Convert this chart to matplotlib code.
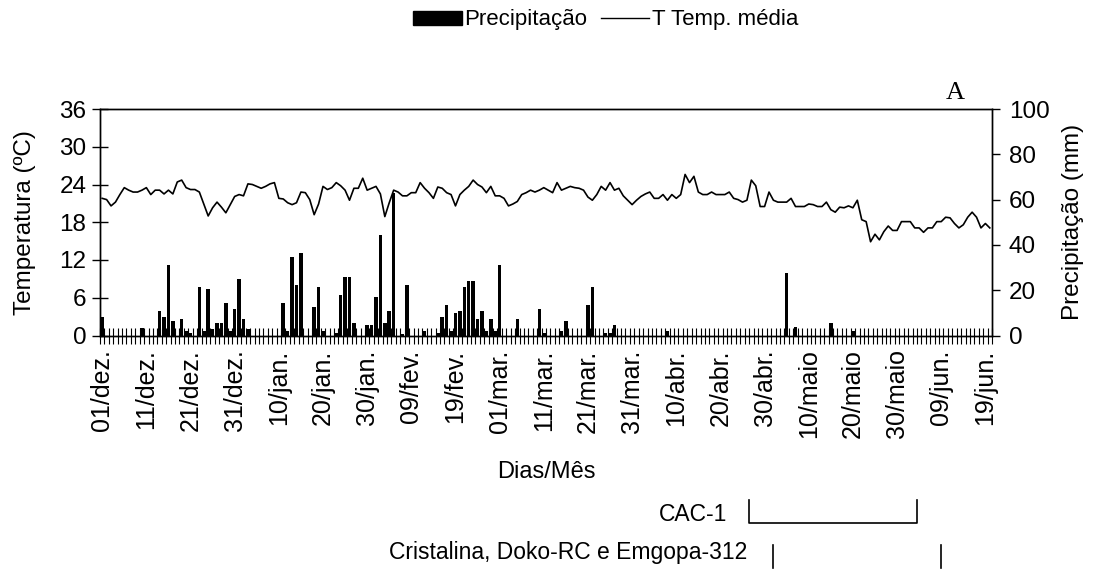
import matplotlib
matplotlib.use("Agg")
import matplotlib.pyplot as plt
from matplotlib.patches import Patch
from matplotlib.lines import Line2D
import numpy as np

plt.rcParams["font.family"] = ["Liberation Sans", "DejaVu Sans"]
plt.rcParams["font.size"] = 17

# temperatura media diaria (ºC), de 01/dez a 21/jun
temp_media = [
    21.8, 21.6, 20.6, 21.2, 22.4, 23.5, 23.1, 22.8, 22.8, 23.1,
    23.5, 22.4, 23.1, 23.1, 22.5, 23.1, 22.5, 24.4, 24.7, 23.5,
    23.2, 23.2, 22.8, 20.9, 19.0, 20.3, 21.2, 20.4, 19.5, 20.8,
    22.1, 22.4, 22.2, 24.1, 24.0, 23.7, 23.4, 23.7, 24.1, 24.3,
    21.8, 21.7, 21.1, 20.8, 21.1, 22.8, 22.7, 21.6, 19.2, 20.9,
    23.7, 23.2, 23.5, 24.3, 23.8,
    23.1, 21.5, 23.4, 23.4, 25.0, 23.1, 23.4, 23.7, 22.5, 18.9,
    21.1, 23.1, 22.8, 22.2, 22.2, 22.7, 22.7, 24.3, 23.4, 22.7,
    21.8, 23.6, 23.4, 22.7, 22.4, 20.6, 22.4, 23.1, 23.7, 24.7,
    24.0, 23.6, 22.7, 23.7, 22.2, 22.2, 21.8, 20.6, 20.9, 21.3,
    22.4, 22.7, 23.1, 22.8, 23.1, 23.5, 23.1, 22.7, 24.3, 23.1,
    23.4, 23.7, 23.5, 23.4, 23.1, 22.0,
    21.5, 22.4, 23.7, 23.1, 24.3, 23.1, 23.4, 22.2, 21.5, 20.8,
    21.5, 22.1, 22.5, 22.8, 21.8, 21.8, 22.4, 21.5, 22.4, 21.8,
    22.4, 25.6, 24.3, 25.3, 22.8, 22.4, 22.4, 22.8, 22.4, 22.4,
    22.4, 22.8, 21.8, 21.6, 21.2, 21.5, 24.7, 23.8, 20.5, 20.5,
    22.8, 21.5, 21.2, 21.2, 21.2, 21.8, 20.5, 20.5, 20.5, 20.9,
    20.8, 20.5, 20.5, 21.2, 20.0, 19.6, 20.4,
    20.3, 20.6, 20.3, 21.5, 18.4, 18.1, 14.9, 16.1, 15.2, 16.5,
    17.4, 16.7, 16.7, 18.1, 18.1, 18.1, 17.1, 17.1, 16.4, 17.1,
    17.1, 18.1, 18.1, 18.8, 18.7, 17.8, 17.1, 17.6, 18.8, 19.6,
    18.8, 17.1, 17.8, 17.1,
]

# dias com chuva (indice do dia a partir de 01/dez) e precipitacao (mm)
chuva_dias = [0, 9, 13, 14, 15, 16, 18, 19, 20, 22, 23, 24, 25, 26, 27, 28, 29,
              30, 31, 32, 33, 41, 42, 43, 44, 45, 48, 49, 50, 53, 54, 55, 56,
              57, 60, 61, 62, 63, 64, 65, 66, 68, 69, 73, 76, 77, 78, 79, 80,
              81, 82, 83, 84, 85, 86, 87, 88, 89, 90, 94, 99, 100, 104, 105,
              110, 111, 114, 115, 116, 128, 155, 157, 165, 170]
chuva_mm = [8.0, 3.5, 10.8, 8.1, 31.1, 6.5, 7.2, 2.1, 1.2, 21.2, 2.1, 20.5,
            3.0, 5.6, 5.6, 14.3, 2.1, 11.7, 24.9, 7.2, 3.0, 14.3, 2.1, 34.8,
            22.3, 36.3, 12.5, 21.2, 2.1, 1.0, 17.8, 25.7, 25.7, 5.6, 4.6, 4.6,
            17.1, 44.4, 5.6, 10.8, 62.8, 0.6, 22.3, 2.1, 1.2, 8.0, 13.4, 2.1,
            10.0, 10.8, 21.2, 24.2, 24.2, 7.2, 10.8, 2.1, 7.2, 2.1, 31.1, 7.2,
            11.7, 1.2, 2.1, 6.5, 13.4, 21.2, 0.9, 0.9, 4.6, 2.1, 27.7, 3.8,
            5.6, 2.1]

rotulos = ["01/dez.", "11/dez.", "21/dez.", "31/dez.", "10/jan.", "20/jan.",
           "30/jan.", "09/fev.", "19/fev.", "01/mar.", "11/mar.", "21/mar.",
           "31/mar.", "10/abr.", "20/abr.", "30/abr.", "10/maio", "20/maio",
           "30/maio", "09/jun.", "19/jun."]

# ciclos das cultivares (dias a partir de 01/dez)
ciclo_cac1 = (146.5, 184.5)
ciclo_outras = (152, 190)

n = len(temp_media)
dias = np.arange(n)
chuva = np.zeros(n)
chuva[chuva_dias] = chuva_mm

fig = plt.figure(figsize=(10.95, 5.71), dpi=100)
ax = fig.add_axes([100 / 1095, 1 - 335.5 / 571, 892 / 1095, 226.5 / 571])
ax2 = ax.twinx()

ax2.bar(dias, chuva, width=0.8, color="black")
ax.plot(dias, temp_media, color="black", lw=1.2)

ax.set_zorder(ax2.get_zorder() + 1)
ax.patch.set_visible(False)

ax.set_xlim(-0.5, n - 0.5)
ax.set_ylim(0, 36)
ax2.set_ylim(0, 100)
ax.set_yticks(range(0, 37, 6))
ax2.set_yticks(range(0, 101, 20))

ax.set_xticks(np.arange(0, n, 10))
ax.set_xticklabels(rotulos, rotation=90, fontsize=18)
ax.set_xticks(np.arange(-0.5, n, 1), minor=True)
ax.tick_params(axis="x", which="major", length=0, pad=10)
ax.tick_params(axis="x", which="minor", direction="inout", length=11.5, width=0.8)
ax.tick_params(axis="y", direction="inout", length=11.5, width=1, pad=4,
               labelsize=17.5)
ax2.tick_params(axis="y", direction="out", length=6, width=1, pad=6,
                labelsize=17.5)

for a in (ax, ax2):
    for s in a.spines.values():
        s.set_linewidth(1)

ax.set_ylabel("Temperatura (ºC)", fontsize=17.5)
ax.yaxis.set_label_coords(-0.072, 0.5)
ax2.set_ylabel("Precipitação (mm)", fontsize=17.5)
ax2.yaxis.set_label_coords(1.079, 0.5)
ax.set_xlabel("Dias/Mês")
ax.xaxis.set_label_coords(0.5, -0.555)

# legenda
handles = [Patch(facecolor="black", edgecolor="black"),
           Line2D([], [], color="black", lw=1)]
fig.legend(handles, ["Precipitação", "T Temp. média"], loc="center",
           bbox_to_anchor=(0.553, 1 - 20 / 571), ncol=2, frameon=False,
           fontsize=16, handlelength=2.2, handleheight=0.6, handletextpad=0.1,
           columnspacing=0.6, borderaxespad=0)

fig.text(955 / 1095, 1 - 93 / 571, "A", family="Liberation Serif",
         fontsize=19, ha="center", va="center")

# barras dos ciclos abaixo do eixo
tr = ax.get_xaxis_transform()
x0, x1 = ciclo_cac1
ax.plot([x0, x0, x1, x1], [-0.726, -0.828, -0.828, -0.726], transform=tr,
        clip_on=False, color="black", lw=1.2)
ax.text(x0 - 5, -0.792, "CAC-1", transform=tr, ha="right", va="center",
        fontsize=16.5)
x0, x1 = ciclo_outras
for x in (x0, x1):
    ax.plot([x, x], [-0.925, -1.026], transform=tr, clip_on=False,
            color="black", lw=1.2)
ax.text(x0 - 6, -0.956, "Cristalina, Doko-RC e Emgopa-312", transform=tr,
        ha="right", va="center", fontsize=16.5)

fig.savefig("out.png", dpi=100)
